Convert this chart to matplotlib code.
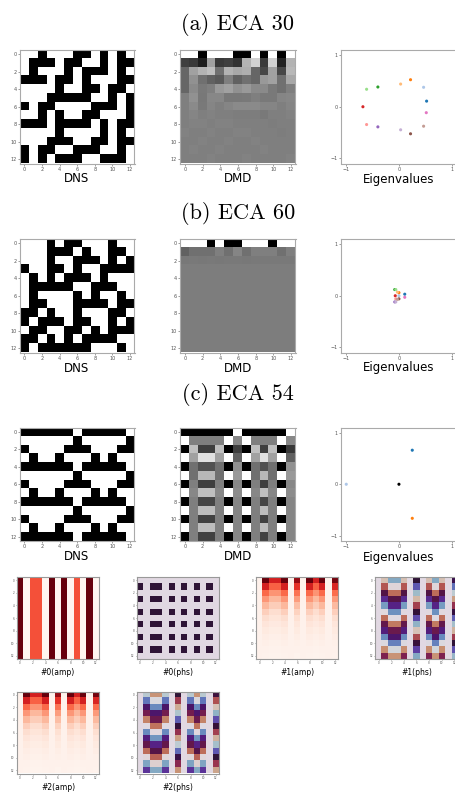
import numpy as np
import matplotlib
matplotlib.use("Agg")
import matplotlib.pyplot as plt

# ---- data -----------------------------------------------------------------
# space-time diagrams (rows = time steps, 1 = black cell)
dns_30 = ["0010001101010", "0111011001011", "0100010111010", "1110110100011",
          "0000100110110", "0001111100101", "1011000011101", "0010100110001",
          "1110111101011", "0000100001010", "0001110011011", "1011001110010",
          "1010111001110"]
dns_60 = ["0001011000100", "0001110100110", "0001001110101", "1001101001111",
          "0101011101000", "0111110011100", "0100001010010", "0110001111011",
          "1101001000110", "1011101100101", "0110011010111", "1101010111100",
          "1011111100010"]
dns_54 = ["1111110111110", "0000001000001", "1000011100011", "0100100010100",
          "1111110111110", "0000001000001", "1000011100011", "0100100010100",
          "1111110111110", "0000001000001", "1000011100011", "0100100010100",
          "1111110111110"]

# DMD reconstructions (0 = white, 1 = black)
dmd_30 = [
    [0, 0, 1, 0, 0, 0, 1, 1, 0, 1, 0, 1, 0],
    [0.75, 0.78, 0.88, 0.37, 0.77, 0.75, 0.80, 0.30, 0.18, 0.77, 0.18, 0.86, 0.30],
    [0.60, 0.37, 0.30, 0.25, 0.56, 0.30, 0.34, 0.32, 0.60, 0.72, 0.37, 0.72, 0.28],
    [0.60, 0.43, 0.56, 0.62, 0.65, 0.50, 0.62, 0.56, 0.60, 0.40, 0.37, 0.56, 0.34],
    [0.60, 0.46, 0.52, 0.50, 0.40, 0.37, 0.43, 0.40, 0.46, 0.46, 0.52, 0.56, 0.50],
    [0.50, 0.43, 0.53, 0.47, 0.47, 0.53, 0.53, 0.52, 0.50, 0.52, 0.52, 0.48, 0.47],
    [0.50, 0.46, 0.52, 0.48, 0.50, 0.48, 0.46, 0.46, 0.46, 0.48, 0.48, 0.50, 0.48],
    [0.50, 0.48, 0.50, 0.49, 0.50, 0.50, 0.51, 0.51, 0.51, 0.52, 0.50, 0.50, 0.49],
    [0.50, 0.49, 0.49, 0.50, 0.49, 0.49, 0.50, 0.50, 0.50, 0.50, 0.51, 0.50, 0.50],
    [0.49, 0.50, 0.50, 0.49, 0.50, 0.50, 0.49, 0.49, 0.50, 0.50, 0.50, 0.51, 0.50],
    [0.50, 0.50, 0.49, 0.50, 0.50, 0.49, 0.50, 0.50, 0.49, 0.50, 0.50, 0.50, 0.50],
    [0.50, 0.49, 0.50, 0.50, 0.49, 0.50, 0.50, 0.50, 0.50, 0.49, 0.50, 0.50, 0.50],
    [0.50, 0.50, 0.50, 0.49, 0.50, 0.50, 0.50, 0.49, 0.50, 0.50, 0.50, 0.50, 0.49],
]
dmd_60 = [
    [0, 0, 0, 1, 0, 1, 1, 0, 0, 0, 1, 0, 0],
    [0.62, 0.56, 0.56, 0.56, 0.50, 0.56, 0.48, 0.56, 0.50, 0.50, 0.50, 0.56, 0.50],
    [0.53, 0.52, 0.53, 0.52, 0.53, 0.52, 0.52, 0.53, 0.52, 0.52, 0.52, 0.52, 0.52],
    [0.51, 0.51, 0.51, 0.51, 0.51, 0.51, 0.51, 0.51, 0.51, 0.51, 0.51, 0.51, 0.51],
    [0.51, 0.51, 0.51, 0.51, 0.51, 0.51, 0.51, 0.51, 0.51, 0.51, 0.51, 0.51, 0.51],
    [0.51, 0.51, 0.51, 0.51, 0.51, 0.51, 0.51, 0.51, 0.51, 0.51, 0.51, 0.51, 0.51],
    [0.51, 0.51, 0.51, 0.51, 0.51, 0.51, 0.51, 0.51, 0.51, 0.51, 0.51, 0.51, 0.51],
    [0.51, 0.51, 0.51, 0.51, 0.51, 0.51, 0.51, 0.51, 0.51, 0.51, 0.51, 0.51, 0.51],
    [0.51, 0.51, 0.51, 0.51, 0.51, 0.51, 0.51, 0.51, 0.51, 0.51, 0.51, 0.51, 0.51],
    [0.51, 0.51, 0.51, 0.51, 0.51, 0.51, 0.51, 0.51, 0.51, 0.51, 0.51, 0.51, 0.51],
    [0.51, 0.51, 0.51, 0.51, 0.51, 0.51, 0.51, 0.51, 0.51, 0.51, 0.51, 0.51, 0.51],
    [0.51, 0.51, 0.51, 0.51, 0.51, 0.51, 0.51, 0.51, 0.51, 0.51, 0.51, 0.51, 0.51],
    [0.51, 0.51, 0.51, 0.51, 0.51, 0.51, 0.51, 0.51, 0.51, 0.51, 0.51, 0.51, 0.51],
]
dmd_54 = [
    [1, 1, 1, 1, 1, 1, 0, 1, 1, 1, 1, 1, 0],
    [0, 0.50, 0.50, 0.50, 0.50, 0, 0.47, 0, 0.50, 0.50, 0.50, 0, 0.47],
    [1, 0.25, 0.75, 0.75, 0.25, 1, 0.75, 1, 0.25, 0.75, 0.25, 1, 0.78],
    [0, 0.37, 0.12, 0.12, 0.37, 0, 0.62, 0, 0.37, 0.12, 0.37, 0, 0.62],
    [1, 0.56, 0.68, 0.68, 0.56, 1, 0.43, 1, 0.56, 0.68, 0.56, 1, 0.43],
    [0, 0.56, 0.28, 0.28, 0.56, 0, 0.40, 0, 0.56, 0.28, 0.56, 0, 0.40],
    [1, 0.50, 0.75, 0.75, 0.50, 1, 0.47, 1, 0.50, 0.75, 0.50, 1, 0.47],
    [0, 0.47, 0.25, 0.25, 0.47, 0, 0.45, 0, 0.47, 0.25, 0.47, 0, 0.45],
    [1, 0.50, 0.73, 0.73, 0.50, 1, 0.48, 1, 0.50, 0.73, 0.50, 1, 0.48],
    [0, 0.50, 0.26, 0.26, 0.50, 0, 0.48, 0, 0.50, 0.26, 0.50, 0, 0.48],
    [1, 0.50, 0.74, 0.74, 0.50, 1, 0.48, 1, 0.50, 0.74, 0.50, 1, 0.48],
    [0, 0.50, 0.26, 0.26, 0.50, 0, 0.48, 0, 0.50, 0.26, 0.50, 0, 0.48],
    [1, 0.50, 0.74, 0.74, 0.50, 1, 0.48, 1, 0.50, 0.74, 0.50, 1, 0.48],
]

# DMD eigenvalues (real, imaginary)
eig30_re = [0.525, 0.468, 0.22, 0.032, -0.40, -0.614, -0.684, -0.614, -0.40, 0.032, 0.22, 0.468, 0.519]
eig30_im = [0.109, 0.377, 0.524, 0.44, 0.383, 0.339, 0.0, -0.345, -0.39, -0.447, -0.524, -0.377, -0.115]
eig60_re = [0.11, 0.0, 0.0, -0.03, -0.08, -0.06, -0.07, -0.06, -0.08, -0.06, 0.0, -0.03, 0.11]
eig60_im = [0.03, 0.0, 0.06, 0.07, 0.12, 0.12, 0.0, -0.06, -0.12, -0.12, -0.06, -0.07, -0.03]
eig54_re = [0.253, -1.0, 0.253, 0.0]
eig54_im = [0.66, 0.0, -0.66, 0.0]
eig54_colors = ["#1f77b4", "#aec7e8", "#ff7f0e", "black"]

# ECA 54 modes: amplitude per column (#0 is constant in time)
m0_amp = [1.0, 0.0, 0.57, 0.57, 0.0, 1.0, 0.0, 1.0, 0.0, 0.57, 0.0, 1.0, 0.0]
m0_phase = [0, 1, 0, 1, 0, 1, 0, 1, 0, 1, 0, 1, 0]  # units of pi, per row

# modes #1/#2: column profiles down the rows
amp_zero = [0.02, 0.02, 0.02, 0.02, 0.02, 0.02, 0.02, 0.02, 0.02, 0.02, 0.02, 0.02, 0.02]
amp_edge = [1.0, 0.72, 0.5, 0.36, 0.26, 0.18, 0.13, 0.09, 0.065, 0.045, 0.032, 0.023, 0.016]
amp_mid = [0.72, 0.52, 0.37, 0.26, 0.19, 0.13, 0.095, 0.068, 0.048, 0.034, 0.024, 0.017, 0.012]
amp_c6 = [0.9, 0.66, 0.47, 0.34, 0.24, 0.17, 0.12, 0.085, 0.06, 0.042, 0.03, 0.021, 0.015]
amp_c12 = [0.97, 0.7, 0.49, 0.35, 0.25, 0.18, 0.125, 0.088, 0.063, 0.044, 0.031, 0.022, 0.016]

ph_zero = [0, 0, 0, 0, 0, 0, 0, 0, 0, 0, 0, 0, 0]
ph1_edge = [1.85, 1.5, 1.15, 0.75, 0.35, 1.98, 1.58, 1.2, 0.8, 0.42, 0.04, 1.68, 1.28]
ph1_mid = [0.3, 1.95, 1.58, 1.16, 0.78, 0.4, 0.02, 1.62, 1.22, 0.84, 0.46, 0.08, 1.7]
ph1_c6 = [1.0, 0.6, 0.22, 1.82, 1.42, 1.02, 0.64, 0.26, 1.86, 1.46, 1.06, 0.68, 0.3]
ph1_c12 = [0.92, 0.52, 0.14, 1.74, 1.36, 0.96, 0.58, 0.2, 1.8, 1.4, 1.0, 0.62, 0.24]
ph2_edge = [0.15, 0.5, 0.85, 1.25, 1.65, 0.02, 0.42, 0.8, 1.2, 1.58, 1.96, 0.32, 0.72]
ph2_mid = [1.7, 0.05, 0.42, 0.84, 1.22, 1.6, 1.98, 0.38, 0.78, 1.16, 1.54, 1.92, 0.3]
ph2_c6 = [1.0, 1.4, 1.78, 0.18, 0.58, 0.98, 1.36, 1.74, 0.14, 0.54, 0.94, 1.32, 1.7]
ph2_c12 = [1.08, 1.48, 1.86, 0.26, 0.64, 1.04, 1.42, 1.8, 0.2, 0.6, 1.0, 1.38, 1.76]

titles = ["(a) ECA 30", "(b) ECA 60", "(c) ECA 54"]
mode_labels = ["#0(amp)", "#0(phs)", "#1(amp)", "#1(phs)", "#2(amp)", "#2(phs)"]

# ---- assemble matrices -------------------------------------------------------
def grid(rows):
    return np.array([[int(c) for c in r] for r in rows])

m0_amp_img = np.tile(m0_amp, (13, 1))
m0_ph_img = np.outer(m0_phase, np.array(m0_amp) > 0)

amp1_img = np.column_stack([amp_zero, amp_edge, amp_mid, amp_mid, amp_edge, amp_zero, amp_c6,
                            amp_zero, amp_edge, amp_mid, amp_edge, amp_zero, amp_c12])
ph1_img = np.column_stack([ph_zero, ph1_edge, ph1_mid, ph1_mid, ph1_edge, ph_zero, ph1_c6,
                           ph_zero, ph1_edge, ph1_mid, ph1_edge, ph_zero, ph1_c12])
ph2_img = np.column_stack([ph_zero, ph2_edge, ph2_mid, ph2_mid, ph2_edge, ph_zero, ph2_c6,
                           ph_zero, ph2_edge, ph2_mid, ph2_edge, ph_zero, ph2_c12])

# ---- figure ------------------------------------------------------------------
W, H = 456, 795
fig = plt.figure(figsize=(W / 100, H / 100), dpi=100)


def box(left, top, width, height):
    return [left / W, 1 - (top + height) / H, width / W, height / H]


def style(ax, fs, ticks, spine="#aaaaaa"):
    ax.set_xticks(ticks)
    ax.set_yticks(ticks)
    ax.tick_params(labelsize=fs, length=1.5, width=0.4, pad=1, colors="#555555")
    for s in ax.spines.values():
        s.set_color(spine)
        s.set_linewidth(0.8)


row_tops = [50, 239, 427.5]
title_base = [30, 219, 400]
label_base = [182.5, 371.5, 560.5]
dns_all = [dns_30, dns_60, dns_54]
dmd_all = [dmd_30, dmd_60, dmd_54]
eig_all = [(eig30_re, eig30_im, [plt.cm.tab20(i) for i in range(13)]),
           (eig60_re, eig60_im, [plt.cm.tab20(i) for i in range(13)]),
           (eig54_re, eig54_im, eig54_colors)]

for k in range(3):
    top = row_tops[k]
    fig.text(238 / W, 1 - title_base[k] / H, titles[k], family="cmr10",
             fontsize=16, ha="center", va="baseline")

    ax = fig.add_axes(box(20, top, 114.5, 113.5))
    ax.imshow(grid(dns_all[k]), cmap="gray_r", vmin=0, vmax=1,
              interpolation="nearest", aspect="auto")
    style(ax, 3.5, range(0, 13, 2))

    ax = fig.add_axes(box(180.5, top, 115, 113.5))
    ax.imshow(np.array(dmd_all[k]), cmap="gray_r", vmin=0, vmax=1,
              interpolation="nearest", aspect="auto")
    style(ax, 3.5, range(0, 13, 2))

    # eigenvalue panel runs slightly past the right edge of the page
    ax = fig.add_axes(box(341, top, 118, 113.5))
    re, im, cols = eig_all[k]
    ax.scatter(re, im, c=cols, s=5, linewidths=0)
    ax.set_xlim(-1.1, 1.14)
    ax.set_ylim(-1.1, 1.1)
    style(ax, 3.5, [-1, 0, 1])

    for cx, txt in zip([77, 238, 399], ["DNS", "DMD", "Eigenvalues"]):
        fig.text(cx / W, 1 - label_base[k] / H, txt, fontsize=8.5,
                 ha="center", va="baseline")

# mode panels
mode_imgs = [(m0_amp_img, "Reds", 0, 1), (m0_ph_img, "twilight", 0, 2),
             (amp1_img, "Reds", 0, 1), (ph1_img, "twilight", 0, 2),
             (amp1_img, "Reds", 0, 1), (ph2_img, "twilight", 0, 2)]
col_left = [17, 137, 256.5, 375.5]
mode_tops = [577, 691.5]
mode_base = [675, 790]

for i, (img, cmap, lo, hi) in enumerate(mode_imgs):
    r, c = divmod(i, 4)
    ax = fig.add_axes(box(col_left[c], mode_tops[r], 82, 82))
    ax.imshow(img, cmap=cmap, vmin=lo, vmax=hi, interpolation="nearest", aspect="auto")
    style(ax, 2, range(0, 13, 2), spine="#999999")
    ax.tick_params(length=1, pad=0.8)
    fig.text((col_left[c] + 41) / W, 1 - mode_base[r] / H, mode_labels[i],
             fontsize=5.5, ha="center", va="baseline")

fig.savefig("out.png", dpi=100)
